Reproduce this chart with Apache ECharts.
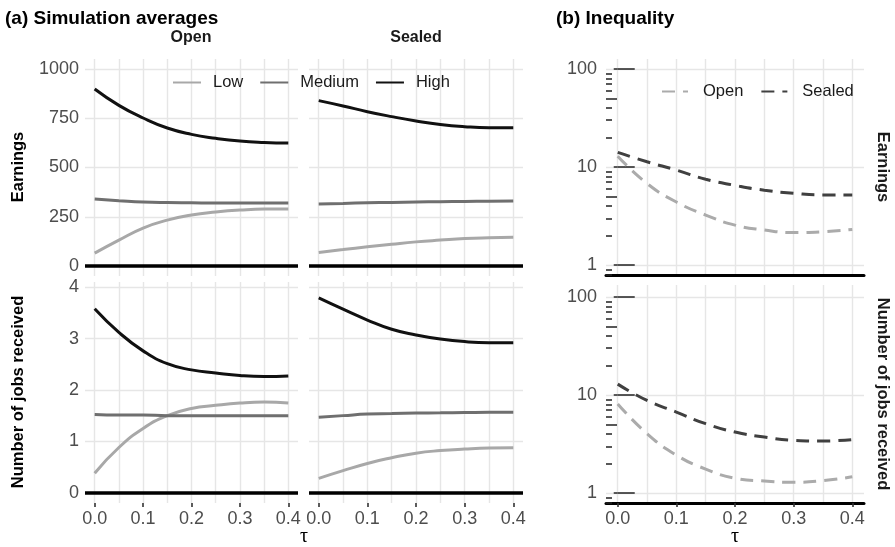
<!DOCTYPE html>
<html>
<head>
<meta charset="utf-8">
<script src="https://cdn.jsdelivr.net/npm/echarts@6/dist/echarts.min.js"></script>
<style>
html, body { margin: 0; padding: 0; background: #fff; }
#chart { width: 895px; height: 547px; }
</style>
</head>
<body>
<div id="chart"></div>
<script>
// x values (tau) and tick positions
var tau = [0, 0.05, 0.1, 0.15, 0.2, 0.25, 0.3, 0.35, 0.4];
var tauTicks = [0, 0.1, 0.2, 0.3, 0.4];
var tauGrid = [0, 0.05, 0.1, 0.15, 0.2, 0.25, 0.3, 0.35, 0.4];
var earnTicks = [0, 250, 500, 750, 1000];
var jobsTicks = [0, 1, 2, 3, 4];
var logTicks = [1, 10, 100];
var logMid = [5, 50];
var logMinor = [0.8, 0.9, 2, 3, 4, 6, 7, 8, 9, 20, 30, 40, 60, 70, 80, 90];

// (a) simulation averages - earnings
var earnOpenLow = [66, 132, 193, 233, 259, 274, 284, 289, 289];
var earnOpenMed = [340, 332, 325, 322, 321, 320, 320, 320, 320];
var earnOpenHigh = [898, 815, 751, 700, 668, 648, 634, 627, 624];
var earnSealedLow = [69, 84, 98, 111, 123, 132, 140, 144, 146];
var earnSealedMed = [315, 318, 321, 323, 325, 327, 328, 329, 330];
var earnSealedHigh = [839, 812, 783, 758, 736, 718, 707, 702, 702];

// (a) simulation averages - number of jobs received
var jobsOpenLow = [0.38, 0.88, 1.25, 1.50, 1.64, 1.70, 1.745, 1.765, 1.745];
var jobsOpenMed = [1.52, 1.51, 1.51, 1.50, 1.50, 1.50, 1.50, 1.50, 1.50];
var jobsOpenHigh = [3.58, 3.12, 2.76, 2.51, 2.39, 2.33, 2.28, 2.26, 2.27];
var jobsSealedLow = [0.28, 0.43, 0.57, 0.68, 0.77, 0.82, 0.85, 0.87, 0.875];
var jobsSealedMed = [1.47, 1.50, 1.53, 1.54, 1.55, 1.555, 1.56, 1.565, 1.565];
var jobsSealedHigh = [3.79, 3.57, 3.36, 3.18, 3.07, 2.99, 2.94, 2.92, 2.92];

// (b) inequality
var ineqEarnOpen = [12.9, 6.8, 4.4, 3.24, 2.56, 2.28, 2.15, 2.19, 2.31];
var ineqEarnSealed = [14.1, 11.3, 9.3, 7.5, 6.5, 5.8, 5.4, 5.2, 5.2];
var ineqJobsOpen = [8.1, 4.04, 2.44, 1.76, 1.42, 1.33, 1.29, 1.34, 1.47];
var ineqJobsSealed = [12.9, 8.8, 6.7, 5.1, 4.19, 3.73, 3.45, 3.40, 3.51];

var myChart = echarts.init(document.getElementById('chart'));

var FONT = '"Liberation Sans", Arial, sans-serif';
var gridColor = '#e6e6e6';
var labelColor = '#4d4d4d';

var grids = [
	{ left: 85, top: 59, width: 213, height: 217 },   // open, earnings
	{ left: 309, top: 59, width: 214, height: 217 },  // sealed, earnings
	{ left: 85, top: 282, width: 213, height: 221 },  // open, jobs
	{ left: 309, top: 282, width: 214, height: 221 }, // sealed, jobs
	{ left: 606, top: 59, width: 258, height: 216 },  // inequality, earnings
	{ left: 606, top: 285, width: 258, height: 218 }  // inequality, jobs
];
grids.forEach(function(g) { g.containLabel = false; g.outerBoundsMode = 'none'; });

// two x axes per panel: one for grid lines, one for ticks/labels
function makeX(g, bottomRow, blackLine) {
	return [{
		gridIndex: g, type: 'value', min: -0.02, max: 0.42, position: 'bottom',
		axisLine: { show: false, onZero: false },
		axisTick: { show: false, customValues: tauGrid },
		axisLabel: { show: false },
		splitLine: { show: true, lineStyle: { color: gridColor, width: 1.4 } }
	}, {
		gridIndex: g, type: 'value', min: -0.02, max: 0.42, position: 'bottom',
		axisLine: { show: blackLine, onZero: false, lineStyle: { color: '#000', width: 3 } },
		axisTick: { show: bottomRow, customValues: tauTicks, length: 4, lineStyle: { color: '#333', width: 1.6 } },
		axisLabel: { show: bottomRow, customValues: tauTicks, fontSize: 18, color: labelColor, margin: 7,
			formatter: function(v) { return v.toFixed(1); } },
		splitLine: { show: false }
	}];
}

var xAxis = [].concat(
	makeX(0, false, false), makeX(1, false, false),
	makeX(2, true, false), makeX(3, true, false),
	makeX(4, false, true), makeX(5, true, true)
);

function makeYLin(g, min, max, ticks, showLabel) {
	return {
		gridIndex: g, type: 'value', min: min, max: max, position: 'left',
		axisLine: { show: false },
		axisTick: { show: false, customValues: ticks },
		axisLabel: { show: showLabel, customValues: ticks, fontSize: 18, color: labelColor, margin: 6,
			formatter: function(v) { return String(v); } },
		splitLine: { show: true, lineStyle: { color: gridColor, width: 1.4 } }
	};
}

// log axis + annotation-style log ticks (long / mid / short)
function makeYLog(g, min, max) {
	var base = { gridIndex: g, type: 'log', logBase: 10, min: min, max: max, position: 'left', offset: 0,
		axisLine: { show: false }, axisLabel: { show: false }, splitLine: { show: false } };
	var main = echarts.util.merge({
		axisTick: { show: true, customValues: logTicks, length: 4, lineStyle: { color: '#333', width: 1.6 } },
		axisLabel: { show: true, customValues: logTicks, fontSize: 18, color: labelColor, margin: 9,
			formatter: function(v) { return String(Math.round(v)); } },
		splitLine: { show: true, lineStyle: { color: gridColor, width: 1.4 } }
	}, base);
	function inner(vals, len) {
		return echarts.util.merge({
			axisTick: { show: true, inside: true, customValues: vals, length: len, lineStyle: { color: '#222', width: 1.5 } }
		}, base);
	}
	return [main, inner(logTicks, 17), inner(logMid, 11), inner(logMinor, 6)];
}

var yAxis = [
	makeYLin(0, -50, 1050, earnTicks, true),
	makeYLin(1, -50, 1050, earnTicks, false),
	makeYLin(2, -0.2, 4.1, jobsTicks, true),
	makeYLin(3, -0.2, 4.1, jobsTicks, false)
].concat(makeYLog(4, 0.7943, 125.9), makeYLog(5, 0.7943, 131.8));

function pairs(arr) {
	return tau.map(function(t, i) { return [t, arr[i]]; });
}

var zeroLine = {
	silent: true, symbol: ['none', 'none'], label: { show: false },
	lineStyle: { color: '#000', width: 3.5, type: 'solid' },
	data: [{ yAxis: 0 }]
};

function ser(name, xi, yi, arr, color, width, dash, mark) {
	var s = {
		name: name, type: 'line', xAxisIndex: xi, yAxisIndex: yi,
		data: pairs(arr), symbol: 'none', smooth: true, silent: true,
		lineStyle: { color: color, width: width, type: dash || 'solid' },
		itemStyle: { color: color }
	};
	if (mark) s.markLine = zeroLine;
	return s;
}

var cLow = '#a8a8a8', cMed = '#6f6f6f', cHigh = '#111111';
var cOpen = '#ababab', cSealed = '#404040';
var dash = [13, 8];

var series = [
	ser('Low', 1, 0, earnOpenLow, cLow, 3, null, true),
	ser('Medium', 1, 0, earnOpenMed, cMed, 3),
	ser('High', 1, 0, earnOpenHigh, cHigh, 3),
	ser('Low', 3, 1, earnSealedLow, cLow, 3, null, true),
	ser('Medium', 3, 1, earnSealedMed, cMed, 3),
	ser('High', 3, 1, earnSealedHigh, cHigh, 3),
	ser('Low', 5, 2, jobsOpenLow, cLow, 3, null, true),
	ser('Medium', 5, 2, jobsOpenMed, cMed, 3),
	ser('High', 5, 2, jobsOpenHigh, cHigh, 3),
	ser('Low', 7, 3, jobsSealedLow, cLow, 3, null, true),
	ser('Medium', 7, 3, jobsSealedMed, cMed, 3),
	ser('High', 7, 3, jobsSealedHigh, cHigh, 3),
	ser('Open', 9, 4, ineqEarnOpen, cOpen, 3, dash),
	ser('Sealed', 9, 4, ineqEarnSealed, cSealed, 3, dash),
	ser('Open', 11, 8, ineqJobsOpen, cOpen, 3, dash),
	ser('Sealed', 11, 8, ineqJobsSealed, cSealed, 3, dash)
];

function txt(text, x, y, size, bold, opts) {
	opts = opts || {};
	return {
		type: 'text', x: x, y: y, rotation: opts.rot || 0, silent: true,
		style: {
			text: text, fill: opts.color || '#000',
			font: (bold ? 'bold ' : '') + size + 'px ' + (opts.family || FONT),
			align: opts.align || 'center', verticalAlign: 'middle'
		}
	};
}

var option = {
	animation: false,
	backgroundColor: '#fff',
	textStyle: { fontFamily: FONT },
	grid: grids,
	xAxis: xAxis,
	yAxis: yAxis,
	legend: [{
		left: 172, top: 74, padding: 0, data: ['Low', 'Medium', 'High'],
		itemWidth: 28, itemHeight: 14, itemGap: 16, selectedMode: false,
		itemStyle: { opacity: 0 },
		textStyle: { fontSize: 16.5, color: '#1a1a1a', padding: [0, 0, 0, 7] }
	}, {
		left: 661, top: 83, padding: 0, data: ['Open', 'Sealed'],
		itemWidth: 26, itemHeight: 14, itemGap: 17, selectedMode: false,
		itemStyle: { opacity: 0 },
		textStyle: { fontSize: 16.5, color: '#1a1a1a', padding: [0, 0, 0, 10] }
	}],
	graphic: [
		txt('(a) Simulation averages', 5, 19, 19, true, { align: 'left' }),
		txt('(b) Inequality', 556, 19, 19, true, { align: 'left' }),
		txt('Open', 191, 38, 16, true, { color: '#1a1a1a' }),
		txt('Sealed', 416, 38, 16, true, { color: '#1a1a1a' }),
		txt('Earnings', 18, 167, 16.5, true, { rot: Math.PI / 2 }),
		txt('Number of jobs received', 18, 392, 16.5, true, { rot: Math.PI / 2 }),
		txt('Earnings', 883, 167, 16.5, true, { rot: -Math.PI / 2, color: '#1a1a1a' }),
		txt('Number of jobs received', 883, 394, 16.5, true, { rot: -Math.PI / 2, color: '#1a1a1a' }),
		txt('τ', 304, 537, 20, false, { family: '"Liberation Serif", serif' }),
		txt('τ', 735, 537, 20, false, { family: '"Liberation Serif", serif' })
	],
	series: series
};

myChart.setOption(option);
</script>
</body>
</html>
